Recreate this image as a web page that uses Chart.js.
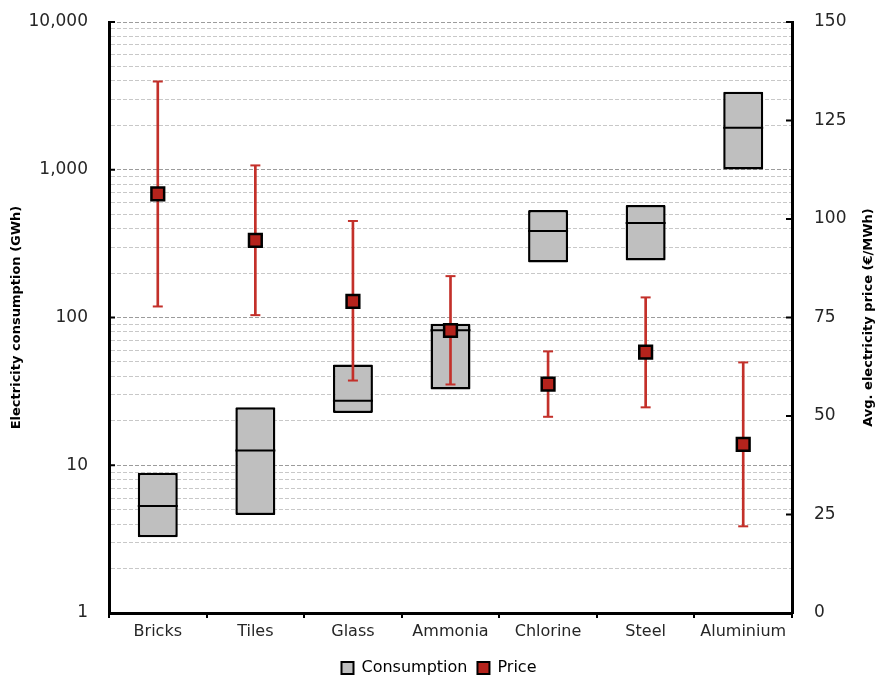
<!DOCTYPE html>
<html>
<head>
<meta charset="utf-8">
<script src="https://cdn.jsdelivr.net/npm/chart.js@4.4.1/dist/chart.umd.min.js"></script>
<style>
  body { margin: 0; background: #fff; }
  #wrap { width: 878px; height: 680px; }
</style>
</head>
<body>
<div id="wrap"><canvas id="energyChart" width="878" height="680"></canvas></div>
<script>
const categories = ['Bricks', 'Tiles', 'Glass', 'Ammonia', 'Chlorine', 'Steel', 'Aluminium'];

// electricity consumption, GWh (box: min / median / max)
const consumptionMin = [3.25, 4.6, 22.6, 32.6, 236, 243, 1003];
const consumptionMedian = [5.3, 12.6, 27.3, 82, 385, 436, 1924];
const consumptionMax = [8.9, 24.7, 48, 90.7, 534, 577, 3378];

// average electricity price, EUR/MWh (point + range)
const priceAvg = [106.4, 94.6, 79.1, 71.7, 58.1, 66.2, 42.8];
const priceMin = [77.8, 75.6, 59.0, 58.0, 49.8, 52.2, 22.0];
const priceMax = [134.9, 113.6, 99.5, 85.5, 66.4, 80.1, 63.6];

const consumptionTicks = [1, 10, 100, 1000, 10000];
const priceTicks = [0, 25, 50, 75, 100, 125, 150];

const RED = '#c3302a';
const FONT = 'DejaVu Sans';

// right-hand title reads bottom-to-top like the left one
const rightTitle = {
    id: 'rightTitle',
    afterDraw(chart) {
        const { ctx, chartArea } = chart;
        ctx.save();
        ctx.translate(chart.scales.yPrice.right - 9, (chartArea.top + chartArea.bottom) / 2);
        ctx.rotate(-Math.PI / 2);
        ctx.font = 'bold 13px "' + FONT + '"';
        ctx.textAlign = 'center';
        ctx.textBaseline = 'middle';
        ctx.fillStyle = '#000';
        ctx.fillText('Avg. electricity price (€/MWh)', 0, 0);
        ctx.restore();
    }
};

// short inward tick marks on both value axes
const innerTicks = {
    id: 'innerTicks',
    afterDatasetsDraw(chart) {
        const { ctx, chartArea, scales } = chart;
        ctx.save();
        ctx.strokeStyle = '#000';
        ctx.lineWidth = 2;
        ctx.beginPath();
        consumptionTicks.forEach(v => {
            const y = scales.y.getPixelForValue(v);
            ctx.moveTo(chartArea.left, y);
            ctx.lineTo(chartArea.left + 6, y);
        });
        priceTicks.forEach(v => {
            const y = scales.yPrice.getPixelForValue(v);
            ctx.moveTo(chartArea.right, y);
            ctx.lineTo(chartArea.right - 6, y);
        });
        ctx.stroke();
        ctx.restore();
    }
};

function initChart() {
    const ctx = document.getElementById('energyChart').getContext('2d');
    new Chart(ctx, {
        type: 'bar',
        data: {
            labels: categories,
            datasets: [
                {
                    label: 'Consumption',
                    data: categories.map((_, i) => [consumptionMin[i], consumptionMax[i]]),
                    yAxisID: 'y',
                    backgroundColor: '#bfbfbf',
                    borderColor: '#000',
                    borderWidth: 2.5,
                    borderSkipped: false,
                    borderRadius: 1,
                    grouped: false,
                    categoryPercentage: 1,
                    barPercentage: 0.41,
                    order: 5
                },
                {
                    type: 'line',
                    label: 'Median',
                    data: consumptionMedian,
                    yAxisID: 'y',
                    showLine: false,
                    pointStyle: 'line',
                    pointRadius: 20,
                    pointBorderWidth: 2,
                    pointBorderColor: '#000',
                    order: 4
                },
                {
                    label: 'Price range',
                    data: categories.map((_, i) => [priceMin[i], priceMax[i]]),
                    yAxisID: 'yPrice',
                    backgroundColor: RED,
                    borderWidth: 0,
                    grouped: false,
                    barThickness: 2,
                    order: 3
                },
                {
                    type: 'line',
                    label: 'Price low',
                    data: priceMin,
                    yAxisID: 'yPrice',
                    showLine: false,
                    pointStyle: 'line',
                    pointRadius: 5,
                    pointBorderWidth: 2,
                    pointBorderColor: RED,
                    order: 2
                },
                {
                    type: 'line',
                    label: 'Price high',
                    data: priceMax,
                    yAxisID: 'yPrice',
                    showLine: false,
                    pointStyle: 'line',
                    pointRadius: 5,
                    pointBorderWidth: 2,
                    pointBorderColor: RED,
                    order: 2
                },
                {
                    type: 'line',
                    label: 'Price',
                    data: priceAvg,
                    yAxisID: 'yPrice',
                    showLine: false,
                    pointStyle: 'rect',
                    pointRadius: 9,
                    pointBackgroundColor: '#b5231c',
                    pointBorderColor: '#000',
                    pointBorderWidth: 2.5,
                    order: 1
                }
            ]
        },
        options: {
            responsive: false,
            animation: false,
            events: [],
            devicePixelRatio: 1,
            layout: { padding: { top: 19, left: 0, right: 0, bottom: -6 } },
            scales: {
                x: {
                    type: 'category',
                    offset: true,
                    afterFit: (s) => { s.height = 37; },
                    grid: { drawOnChartArea: false, color: '#000', lineWidth: 2, tickLength: 5, offset: true },
                    border: { color: '#000', width: 3 },
                    ticks: { color: '#262626', padding: 4, font: { family: FONT, size: 16 } }
                },
                y: {
                    type: 'logarithmic',
                    position: 'left',
                    min: 1,
                    max: 10000,
                    afterFit: (s) => { s.width = 109; },
                    afterBuildTicks: (s) => {
                        const vals = [];
                        consumptionTicks.forEach((d, i) => {
                            if (i === consumptionTicks.length - 1) { vals.push(d); return; }
                            for (let m = 1; m < 10; m++) vals.push(d * m);
                        });
                        s.ticks = vals.map(v => ({ value: v }));
                    },
                    grid: {
                        drawTicks: true,
                        tickLength: 21,
                        tickColor: 'rgba(0,0,0,0)',
                        lineWidth: 1,
                        color: (c) => c.tick && consumptionTicks.includes(c.tick.value) ? '#9c9c9c' : '#c8c8c8'
                    },
                    border: { color: '#000', width: 3, dash: [4, 2] },
                    ticks: {
                        autoSkip: false,
                        padding: 0,
                        color: '#262626',
                        font: { family: FONT, size: 17 },
                        callback: (v) => consumptionTicks.includes(v) ? v.toLocaleString('en-US') : ''
                    },
                    title: {
                        display: true,
                        text: 'Electricity consumption (GWh)',
                        color: '#000',
                        font: { family: FONT, size: 13, weight: 'bold' },
                        padding: { top: 9, bottom: 0 }
                    }
                },
                yPrice: {
                    type: 'linear',
                    position: 'right',
                    min: priceTicks[0],
                    max: priceTicks[priceTicks.length - 1],
                    afterFit: (s) => { s.width = 86; },
                    afterBuildTicks: (s) => { s.ticks = priceTicks.map(v => ({ value: v })); },
                    grid: { drawOnChartArea: false, drawTicks: true, tickLength: 22, tickColor: 'rgba(0,0,0,0)' },
                    border: { color: '#000', width: 3 },
                    ticks: { padding: 0, color: '#262626', font: { family: FONT, size: 17 } }
                }
            },
            plugins: {
                tooltip: { enabled: false },
                legend: {
                    position: 'bottom',
                    labels: {
                        boxWidth: 12,
                        boxHeight: 12,
                        padding: 10,
                        color: '#262626',
                        font: { family: FONT, size: 16 },
                        generateLabels: () => [
                            { text: 'Consumption', fillStyle: '#bfbfbf', strokeStyle: '#000', lineWidth: 2, hidden: false, datasetIndex: 0 },
                            { text: 'Price', fillStyle: '#b5231c', strokeStyle: '#000', lineWidth: 2, hidden: false, datasetIndex: 5 }
                        ]
                    }
                }
            }
        },
        plugins: [innerTicks, rightTitle]
    });
}

window.onload = () => {
    initChart();
};
</script>
</body>
</html>
